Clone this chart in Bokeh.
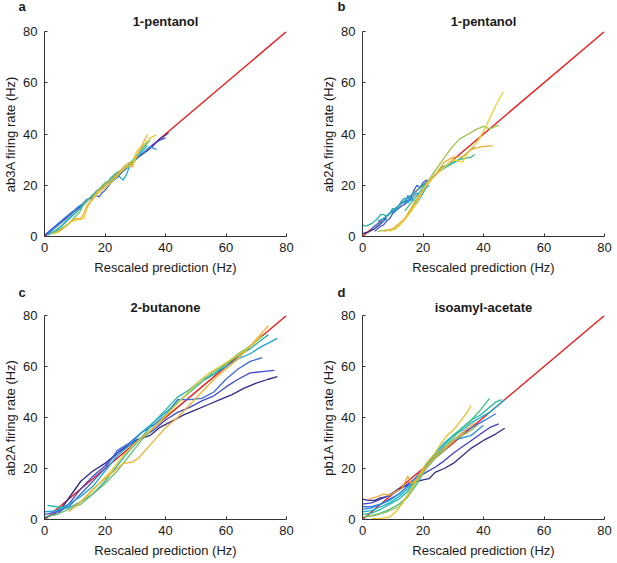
from bokeh.plotting import figure
from bokeh.layouts import row, column
from bokeh.models import Title, FixedTicker, Range1d
from bokeh.embed import file_html
from bokeh.resources import INLINE

FONT = "Liberation Sans"
TEXT = "#1a1a1a"
RED = "#ec1c1c"

tick_values = [0, 20, 40, 60, 80]
diag_x = [0, 80]
diag_y = [0, 80]
x_label = "Rescaled prediction (Hz)"

# ---------------- panel a : 1-pentanol, ab3A ----------------
a_letter = "a"
a_title = "1-pentanol"
a_ylabel = "ab3A firing rate (Hz)"
a_colors = ["#4a2ea0", "#3558e0", "#2a8ee6", "#18b0c8", "#2ab6a0", "#6cc070", "#e8c830", "#f0b232"]
a_x = [
    [0, 4, 8, 12, 16, 20, 24, 28, 31, 34, 36, 38, 40, 41],
    [0, 3, 6, 9, 12, 14, 16, 17, 18, 19, 20, 22, 24, 26, 28, 30, 32, 34, 36, 38, 40],
    [1, 3, 5, 7, 9, 11, 13, 15, 17, 19, 21, 23, 25, 27, 29, 31, 33, 35, 36, 37],
    [2, 5, 8, 11, 13, 15, 17, 19, 21, 22, 23, 24, 25, 26, 27, 28, 30, 32, 34],
    [1, 4, 7, 10, 12, 14, 16, 18, 20, 22, 24, 26, 28, 30, 32, 34],
    [2, 4, 6, 8, 10, 12, 13, 14, 16, 18, 20, 22, 24, 26, 28, 30, 32, 35],
    [3, 5, 7, 9, 11, 13, 14, 15, 17, 19, 21, 23, 25, 27, 29, 30, 31, 33, 35, 37],
    [4, 6, 8, 10, 12, 13, 14, 16, 18, 20, 22, 24, 26, 28, 29, 30, 32, 34],
]
a_y = [
    [0.3, 4, 8, 12, 16, 20, 24, 28, 31, 33.5, 35.5, 38, 39.5, 40.5],
    [0.5, 3.5, 6.5, 9.5, 12, 14.5, 15, 16, 15.5, 17, 18, 21, 23, 25.5, 27.5, 30, 32, 34, 36, 37.5, 38.5],
    [0.8, 3, 5, 7.5, 9, 11.5, 13, 15, 17.5, 19, 21, 22.5, 25, 27, 29, 31.5, 33, 35, 34.5, 34],
    [1, 3.5, 7, 10, 12.5, 15, 17, 19, 21, 21, 24, 25, 23, 22, 24, 27, 30, 33, 35.5],
    [0.5, 2.5, 5.5, 9, 11, 14, 16, 18.5, 20, 23, 25, 26, 28, 31, 34, 37],
    [1, 2, 3.5, 5, 7.5, 10, 13, 14, 16, 18.5, 21, 22, 25, 26.5, 28, 31, 34, 37.5],
    [1, 2, 4, 6, 6.5, 7, 11, 13, 16, 18, 20, 22, 25, 27, 28, 32, 34, 36, 38.5, 39.7],
    [1.5, 3, 5, 7, 7, 9, 12, 15, 18, 20, 22, 24, 27, 29, 27, 30, 35, 39.8],
]

# ---------------- panel b : 1-pentanol, ab2A ----------------
b_letter = "b"
b_title = "1-pentanol"
b_ylabel = "ab2A firing rate (Hz)"
b_colors = ["#3b2c96", "#3858e0", "#2a86e6", "#16a6d6", "#20b4a4", "#3cbc8c", "#9cc250", "#f0d030", "#f2ae30"]
b_x = [
    [0, 1, 2, 3, 4, 5, 6, 7, 8],
    [4, 5, 6, 7, 8, 9, 10, 11, 12, 13, 14, 15, 16, 17, 18, 19, 20, 21, 22, 23, 24],
    [3, 5, 7, 8, 9, 10, 11, 12, 13, 14, 15, 16, 17, 18, 19, 20],
    [5, 7, 9, 10, 11, 12, 13, 14, 15, 16, 17, 18, 19, 20, 21, 22],
    [0, 1, 2, 3, 4, 5, 6, 7, 8, 9, 10, 11, 12, 14, 16, 18, 20, 23, 26, 29, 32, 34, 36, 37],
    [14, 16, 18, 20, 22, 24, 26, 28, 30, 32, 34, 36, 37],
    [5, 8, 11, 14, 17, 20, 23, 26, 29, 32, 35, 38, 40, 42, 45],
    [9, 12, 15, 18, 20, 22, 25, 28, 30, 33, 35, 38, 40, 42, 44, 46.5],
    [7, 10, 12, 14, 16, 18, 20, 22, 24, 27, 30, 33, 36, 39, 43],
]
b_y = [
    [1, 1.5, 1.8, 2.5, 3, 4, 5, 6, 7],
    [2, 3, 4, 4.5, 6, 7, 9, 10, 11, 12, 12.5, 14, 15, 18, 20, 19, 21, 22, 21.5, 23, 24],
    [3, 5, 6, 8, 9, 9.5, 11, 12, 13.5, 13, 16, 14, 16, 17, 16, 17],
    [6, 7, 9, 11, 10, 12, 14, 15, 13, 15, 14, 13, 15, 17, 19, 20],
    [4.5, 4, 4.5, 5, 6, 7, 8.5, 8.5, 8, 9, 10, 11, 12, 14, 16, 18, 20, 23, 26, 28, 30, 32, 34, 35],
    [10, 13, 16, 19, 22, 24, 27, 28, 29, 30, 30.5, 31, 32],
    [2, 2.5, 3, 7, 12, 18, 24, 29, 34, 38, 40, 42, 43, 42, 43.5],
    [2, 4, 8, 13, 18, 22, 25, 28, 30, 29, 33, 37, 41, 46, 51, 56.5],
    [2, 3, 5, 7, 11, 15, 18, 21, 24, 29, 31, 31, 34, 35, 35.5],
]

# ---------------- panel c : 2-butanone, ab2A ----------------
c_letter = "c"
c_title = "2-butanone"
c_ylabel = "ab2A firing rate (Hz)"
c_colors = ["#352a87", "#4148cc", "#3a6ae0", "#1aa2d8", "#1eb8a6", "#6cc074", "#e6c82c", "#f2b030"]
c_x = [
    [0, 3, 6, 9, 12, 16, 20, 25, 30, 35, 38, 42, 46, 50, 54, 58, 62, 66, 70, 74, 77],
    [0, 4, 8, 12, 16, 20, 24, 28, 32, 36, 40, 44, 48, 52, 56, 60, 64, 68, 72, 76],
    [0, 4, 8, 12, 16, 20, 24, 28, 32, 36, 40, 44, 48, 52, 56, 60, 64, 68, 72],
    [0, 4, 8, 12, 16, 20, 24, 28, 32, 36, 40, 44, 48, 52, 56, 60, 64, 68, 72, 77],
    [1, 4, 8, 12, 16, 20, 24, 28, 32, 36, 40, 44, 48, 52, 56, 60, 64, 68, 74],
    [0, 4, 8, 12, 16, 20, 24, 28, 32, 36, 40, 44, 48, 52, 56, 60, 64, 68, 72],
    [10, 14, 18, 22, 26, 30, 34, 38, 42, 46, 50, 54, 58, 62, 66, 70, 72],
    [8, 12, 16, 20, 24, 26, 29, 31, 34, 37, 40, 44, 48, 52, 56, 60, 64, 68, 71, 74],
]
c_y = [
    [0.5, 2, 5, 10, 15, 19, 22, 27, 31, 33, 36, 38.5, 41, 43, 45, 47, 49, 51.5, 53.5, 55, 56],
    [1, 2, 6, 12, 17, 21, 26, 29, 32, 35, 39, 42, 44, 46.5, 48.5, 52, 55, 57.5, 58, 58.5],
    [2, 3, 5, 10, 15, 20, 27, 30, 34, 37, 41, 47, 47, 47.5, 50, 55, 59, 62, 63.5],
    [3, 3.5, 6, 9, 13, 19, 25, 29, 34, 38, 42, 46, 50, 54, 57, 60, 63, 65, 68, 71],
    [5.5, 5, 4.5, 7, 10, 15, 21, 27, 32, 38, 43, 48, 51, 55, 57, 61, 64, 67, 72.5],
    [1, 2, 4, 6, 10, 14, 19, 25, 31, 36, 41, 46, 50, 54, 58, 61, 65, 68, 72],
    [5, 9, 14, 19, 25, 30, 34, 38, 43, 48, 53, 57, 60, 63, 66, 70, 73],
    [3, 7, 12, 16, 20, 22, 22.5, 24, 28, 32, 36, 40, 45, 50, 55, 59, 63, 68, 72, 76],
]

# ---------------- panel d : isoamyl-acetate, pb1A ----------------
d_letter = "d"
d_title = "isoamyl-acetate"
d_ylabel = "pb1A firing rate (Hz)"
d_colors = ["#352a87", "#4040c8", "#3a70e0", "#2090e0", "#10b0d0", "#20b8a0", "#40c080", "#90c060", "#f0c020", "#f0a838"]
d_x = [
    [0, 2, 4, 6, 8, 10, 12, 14, 16, 18, 20, 22, 24, 27, 30, 33, 36, 40, 44, 47],
    [0, 3, 6, 9, 12, 15, 18, 21, 24, 27, 30, 33, 36, 39, 42, 45],
    [0, 3, 6, 9, 12, 15, 18, 21, 24, 27, 30, 33, 36, 39, 42, 44],
    [0, 3, 6, 9, 12, 15, 18, 21, 24, 27, 30, 33, 36, 39, 40],
    [0, 3, 6, 9, 12, 15, 18, 21, 24, 27, 30, 33, 36, 39, 42, 45, 47],
    [0, 3, 6, 9, 12, 15, 18, 21, 24, 27, 30, 33, 36, 39, 42, 44, 46],
    [0, 3, 6, 9, 12, 15, 18, 21, 24, 27, 30, 33, 36, 39, 42],
    [0, 4, 8, 12, 15, 18, 21, 24, 27, 30, 33, 36, 38],
    [3, 6, 9, 11, 13, 15, 17, 19, 21, 24, 26, 28, 30, 32, 34, 36],
    [2, 5, 7, 9, 11, 13, 15, 16, 18, 20, 22, 25, 28, 31, 34, 37],
]
d_y = [
    [8, 7.5, 7.5, 8.5, 9, 10.5, 12, 13, 14, 15, 15.5, 16, 18.5, 20, 22, 25, 28, 31, 33.5, 35.8],
    [6, 6.5, 8, 9.5, 11.5, 14, 16.5, 18.5, 20.5, 23, 26, 28.5, 31, 33.5, 36, 37.5],
    [5, 5, 6, 8, 10, 13, 17, 21, 25, 28, 31, 34, 36, 38, 40, 41.5],
    [4, 4.5, 6, 7.5, 10, 13, 17, 21, 25, 28, 31, 32, 33, 36, 37],
    [3, 3.5, 5, 6.5, 9, 12, 16, 21, 26, 30, 33, 35, 38, 40, 42, 45, 47],
    [2, 2.5, 4, 6, 8, 11, 16, 21, 25, 29, 33, 36, 39, 41, 44, 46, 47],
    [1, 1.5, 2.5, 4, 6, 9, 14, 20, 24, 28, 32, 36, 39, 43, 47.5],
    [1, 1.5, 3, 5, 9, 15, 20, 24, 27, 31, 33, 35, 37],
    [0.3, 0.3, 1, 3, 6, 10, 14, 18, 22, 26, 30, 33, 35, 38, 41, 44.7],
    [8, 9, 10, 9.5, 11, 12, 17, 14, 16, 19, 22, 26, 29, 32, 35, 38],
]


def make_panel(letter, title, ylabel, xs, ys, colors, width, height,
               bl, br, bt, bb, letter_dx, title_so, letter_so):
    p = figure(width=width, height=height, title=None,
               x_range=Range1d(0, 80), y_range=Range1d(0, 80),
               output_backend="svg", toolbar_location=None,
               min_border_left=bl, min_border_right=br,
               min_border_top=bt, min_border_bottom=bb,
               background_fill_color="white", border_fill_color="white",
               outline_line_color=None)
    p.grid.visible = False
    p.line(diag_x, diag_y, line_color=RED, line_width=1.4)
    for x, y, c in zip(xs, ys, colors):
        p.line(x, y, line_color=c, line_width=1.3)
    for ax in (p.xaxis[0], p.yaxis[0]):
        ax.ticker = FixedTicker(ticks=tick_values)
        ax.minor_tick_line_color = None
        ax.major_tick_in = 3
        ax.major_tick_out = 0
        ax.axis_line_color = "#333333"
        ax.major_tick_line_color = "#333333"
        ax.major_label_text_font = FONT
        ax.major_label_text_font_size = "13px"
        ax.major_label_text_color = TEXT
        ax.axis_label_text_font = FONT
        ax.axis_label_text_font_size = "13px"
        ax.axis_label_text_font_style = "normal"
        ax.axis_label_text_color = TEXT
    p.xaxis.major_label_standoff = 6
    p.xaxis.axis_label_standoff = 5
    p.yaxis.major_label_standoff = 7
    p.yaxis.axis_label_standoff = 2
    p.xaxis.axis_label = x_label
    p.yaxis.axis_label = ylabel
    p.add_layout(Title(text=title, align="center", text_font=FONT,
                       text_font_size="13px", text_font_style="bold",
                       text_color=TEXT, standoff=title_so), "above")
    p.add_layout(Title(text=letter, align="left", offset=letter_dx,
                       text_font=FONT, text_font_size="13px",
                       text_font_style="bold", text_color=TEXT,
                       standoff=letter_so), "above")
    return p


pa = make_panel(a_letter, a_title, a_ylabel, a_x, a_y, a_colors, 310, 280,
                43, 24, 31, 44, -26, 5, -9)
pb = make_panel(b_letter, b_title, b_ylabel, b_x, b_y, b_colors, 307, 280,
                52, 13, 31, 44, -25, 5, -9)
pc = make_panel(c_letter, c_title, c_ylabel, c_x, c_y, c_colors, 310, 283,
                43, 24, 35, 44, -26, 2, -6)
pd = make_panel(d_letter, d_title, d_ylabel, d_x, d_y, d_colors, 307, 283,
                52, 13, 35, 44, -25, 2, -6)

layout = column(row(pa, pb), row(pc, pd))
open("out.html", "w").write(file_html(layout, INLINE))
